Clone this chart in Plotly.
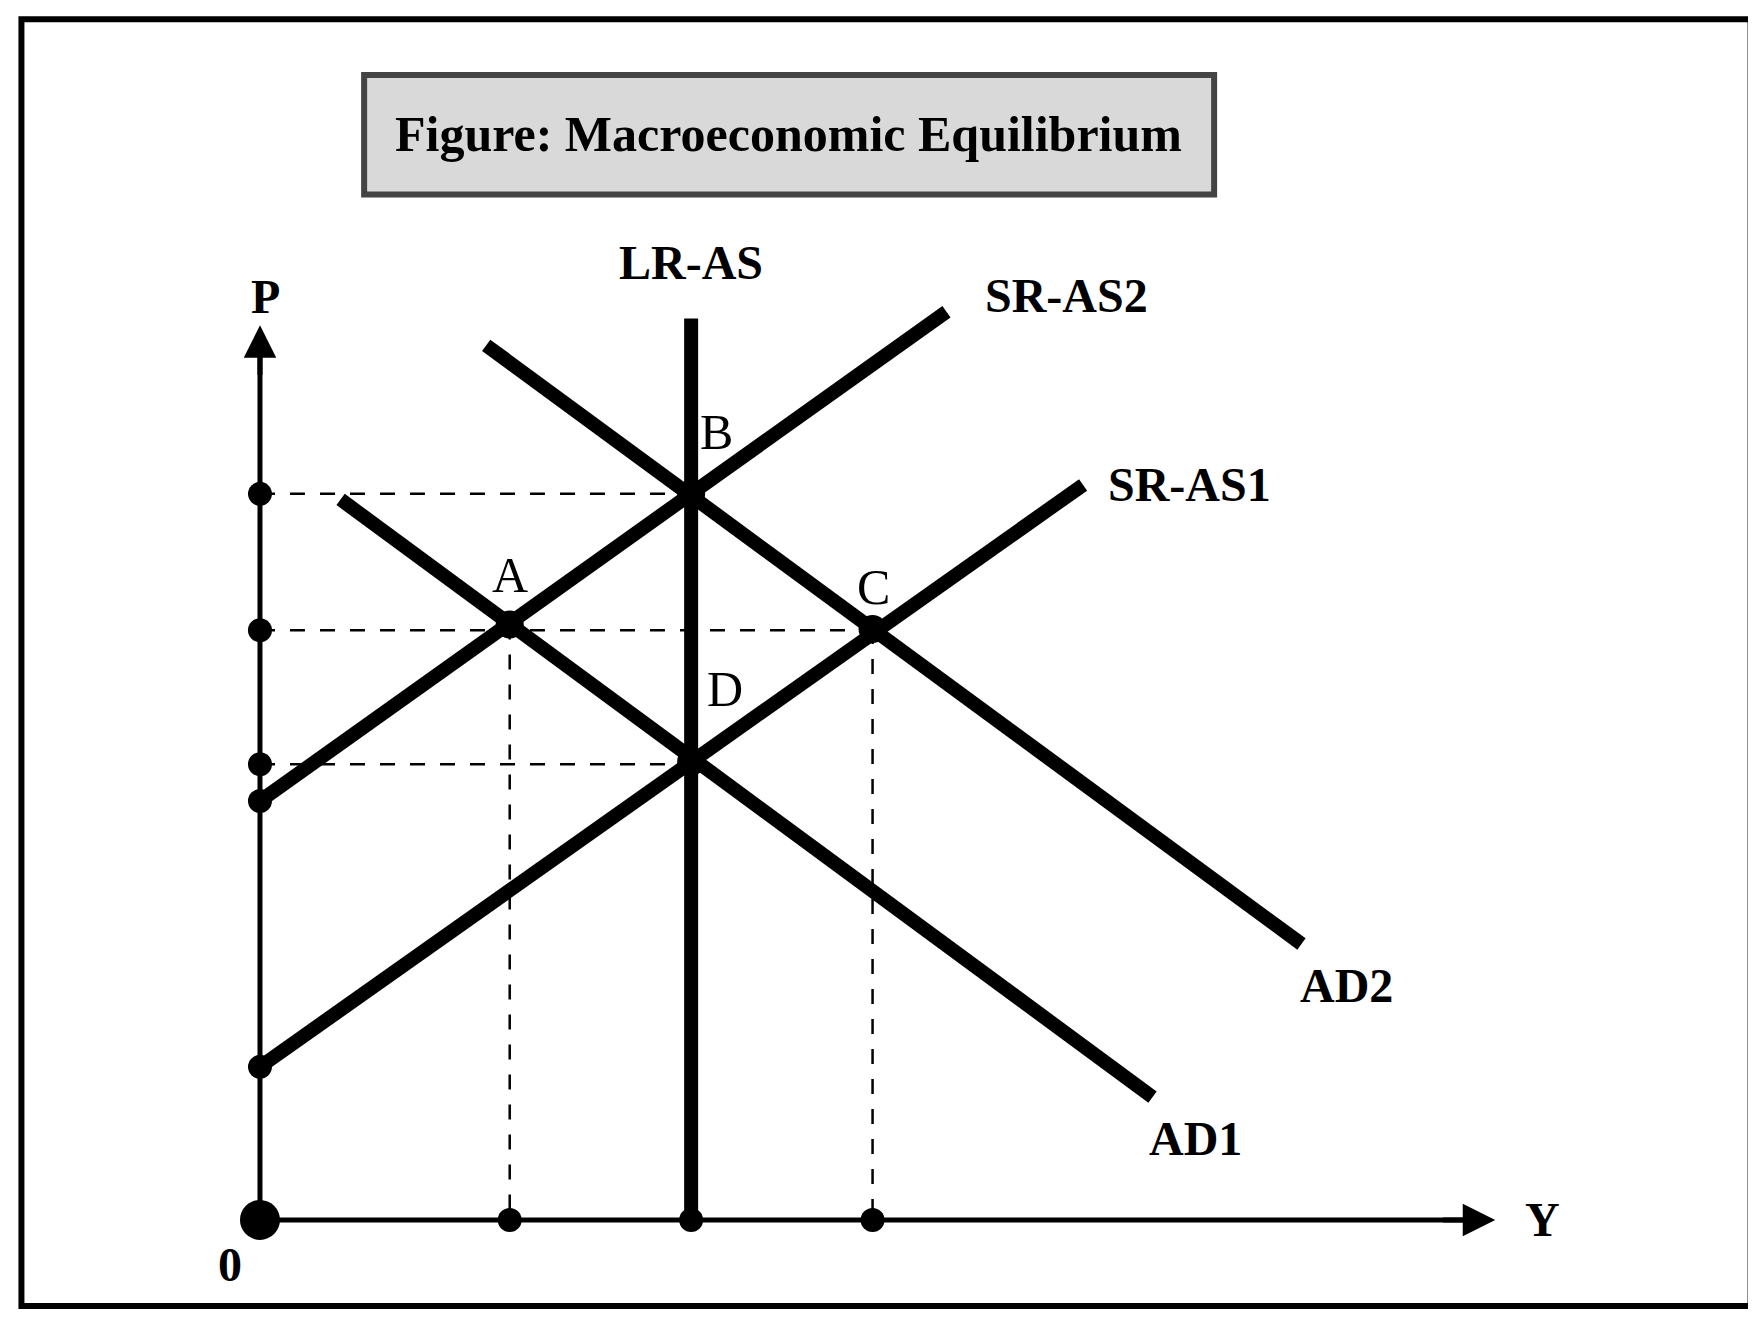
"""Macroeconomic equilibrium diagram (AD / SR-AS / LR-AS) drawn with Plotly."""

import plotly.graph_objects as go

# Diagram coordinates (canvas units, y grows downward)
origin = (225, 1085)
lras_x = 610
lras_y = [278, 1080]
sras2_x = [225, 838]
sras2_y = [710, 272]
sras1_x = [225, 960]
sras1_y = [948, 427]
ad1_x = [297, 1022]
ad1_y = [440, 975]
ad2_x = [427, 1155]
ad2_y = [302, 838]

price_levels = [435, 557, 677]        # P at B, A/C, D
price_ends = [610, 772, 610]
output_levels = [448, 772]            # Y at A, C
output_tops = [552, 556]
axis_dots_y = [435, 557, 677, 710, 948]
axis_dots_x = [448, 610, 772]

points = {"A": (448, 552), "B": (610, 435), "C": (772, 556), "D": (610, 675)}
point_labels = {"A": (448, 508), "B": (633, 380), "C": (773, 518), "D": (640, 610)}
curve_labels = [
    ("LR-AS", 610, 228), ("SR-AS2", 945, 257), ("SR-AS1", 1055, 427),
    ("AD2", 1195, 875), ("AD1", 1060, 1012), ("P", 230, 258),
    ("Y", 1370, 1085), ("0", 198, 1125),
]

W, H = 1568, 1180
fig = go.Figure()

thick = dict(color="black", width=14)
dash = dict(color="black", width=2.5, dash="longdash")

# dashed guides
for y, xe in zip(price_levels, price_ends):
    fig.add_trace(go.Scatter(x=[origin[0], xe], y=[y, y], mode="lines", line=dash))
for x, yt in zip(output_levels, output_tops):
    fig.add_trace(go.Scatter(x=[x, x], y=[yt, origin[1]], mode="lines", line=dash))

# axes
ax = dict(color="black", width=5)
fig.add_trace(go.Scatter(x=[origin[0], origin[0]], y=[origin[1], 300], mode="lines", line=ax))
fig.add_trace(go.Scatter(x=[origin[0], 1315], y=[origin[1], origin[1]], mode="lines", line=ax))
fig.add_annotation(x=origin[0], y=284, ax=origin[0], ay=330, xref="x", yref="y", axref="x", ayref="y",
                   showarrow=True, arrowhead=2, arrowsize=1.3, arrowwidth=5, arrowcolor="black", text="")
fig.add_annotation(x=1328, y=origin[1], ax=1280, ay=origin[1], xref="x", yref="y", axref="x", ayref="y",
                   showarrow=True, arrowhead=2, arrowsize=1.3, arrowwidth=5, arrowcolor="black", text="")

# curves
fig.add_trace(go.Scatter(x=[lras_x, lras_x], y=lras_y, mode="lines", line=thick))
for xs, ys in [(sras2_x, sras2_y), (sras1_x, sras1_y), (ad1_x, ad1_y), (ad2_x, ad2_y)]:
    fig.add_trace(go.Scatter(x=xs, y=ys, mode="lines", line=thick))

# dots
fig.add_trace(go.Scatter(x=[origin[0]] * len(axis_dots_y), y=axis_dots_y, mode="markers",
                         marker=dict(color="black", size=24)))
fig.add_trace(go.Scatter(x=axis_dots_x, y=[origin[1]] * len(axis_dots_x), mode="markers",
                         marker=dict(color="black", size=24)))
fig.add_trace(go.Scatter(x=[origin[0]], y=[origin[1]], mode="markers",
                         marker=dict(color="black", size=40)))
fig.add_trace(go.Scatter(x=[p[0] for p in points.values()], y=[p[1] for p in points.values()],
                         mode="markers", marker=dict(color="black", size=28)))

for name, (x, y) in point_labels.items():
    fig.add_annotation(x=x, y=y, text=name, showarrow=False,
                       font=dict(family="Liberation Serif", size=50, color="black"))
for text, x, y in curve_labels:
    fig.add_annotation(x=x, y=y, text=f"<b>{text}</b>", showarrow=False,
                       font=dict(family="Liberation Serif", size=48, color="black"))

# title box and frame
fig.add_shape(type="rect", x0=318, y0=60, x1=1077, y1=167, fillcolor="#d9d9d9",
              line=dict(color="#444444", width=6), layer="below")
fig.add_annotation(x=697, y=113, text="<b>Figure: Macroeconomic Equilibrium</b>", showarrow=False,
                   font=dict(family="Liberation Serif", size=50, color="black"))
fig.add_shape(type="rect", x0=12, y0=10, x1=1556, y1=1162, line=dict(color="black", width=6))

fig.update_layout(
    width=1756, height=1318, margin=dict(l=0, r=0, t=0, b=0),
    plot_bgcolor="white", paper_bgcolor="white", showlegend=False,
    xaxis=dict(range=[0, W], visible=False, fixedrange=True),
    yaxis=dict(range=[H, 0], visible=False, fixedrange=True),
)

fig.write_html("out.html")
